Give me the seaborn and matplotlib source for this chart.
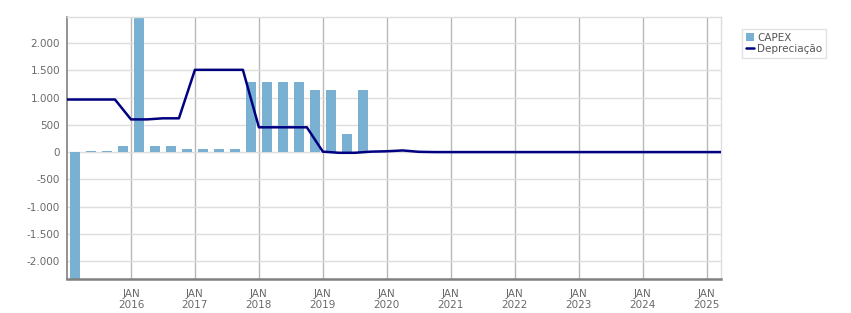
import numpy as np
import pandas as pd
import matplotlib
matplotlib.use("Agg")
import matplotlib.pyplot as plt
import seaborn as sns
from matplotlib.ticker import FuncFormatter, MultipleLocator, FixedLocator
from matplotlib.patches import Patch
from matplotlib.lines import Line2D

# ---- data (quarterly, starting Q1 2015) ----
capex_quarters = ["2015Q1", "2015Q2", "2015Q3", "2015Q4",
                  "2016Q1", "2016Q2", "2016Q3", "2016Q4",
                  "2017Q1", "2017Q2", "2017Q3", "2017Q4",
                  "2018Q1", "2018Q2", "2018Q3", "2018Q4",
                  "2019Q1", "2019Q2", "2019Q3"]
capex_values = [-2330, 18, 18, 110,
                2480, 110, 110, 60,
                60, 60, 60, 1290,
                1290, 1290, 1290, 1140,
                1140, 330, 1140]

dep_values = [965, 965, 965, 965,
              600, 600, 620, 620,
              1510, 1510, 1510, 1510,
              455, 455, 455, 455,
              8, -13, -13, 8,
              15, 30, 5, 0,
              0, 0, 0, 0,
              0, 0, 0, 0,
              0, 0, 0, 0,
              0, 0, 0, 0,
              0, 0]

year_labels = ["JAN\n2016", "JAN\n2017", "JAN\n2018", "JAN\n2019", "JAN\n2020",
               "JAN\n2021", "JAN\n2022", "JAN\n2023", "JAN\n2024", "JAN\n2025"]

# ---- frames (x = quarters since Jan 2015) ----
bar_df = pd.DataFrame({"q": np.arange(len(capex_values)) + 0.5, "v": capex_values})
line_df = pd.DataFrame({"q": np.arange(len(dep_values)), "v": dep_values})

sns.set_style("white")
plt.rcParams["font.family"] = ["DejaVu Sans"]

fig = plt.figure(figsize=(8.51, 3.13), dpi=100)
ax = fig.add_axes([67 / 851, 1 - 279 / 313, (721 - 67) / 851, (279 - 17) / 313])

bar_color = "#7ab1d3"
line_color = "#000080"

ax.set_axisbelow(True)
sns.barplot(data=bar_df, x="q", y="v", native_scale=True, width=0.625,
            color=bar_color, saturation=1, ax=ax, zorder=2, linewidth=0)
sns.lineplot(data=line_df, x="q", y="v", color=line_color, linewidth=1.8,
             ax=ax, zorder=3)

ax.set_xlim(0, 40.9)
ax.set_ylim(-2330, 2480)

# grid
ax.yaxis.set_major_locator(FixedLocator([-2000, -1500, -1000, -500, 0, 500, 1000, 1500, 2000]))
ax.grid(axis="y", color="#dedede", linewidth=1, zorder=0)
ax.xaxis.set_major_locator(FixedLocator(np.arange(4, 41, 4)))
ax.xaxis.set_minor_locator(MultipleLocator(1))
ax.grid(axis="x", which="major", color="#b8b8b8", linewidth=1, zorder=0)

ax.set_xticklabels(year_labels)
ax.yaxis.set_major_formatter(FuncFormatter(lambda v, p: f"{int(v):,}".replace(",", ".")))

ax.tick_params(axis="x", which="major", length=5, width=1, color="#888888",
               labelsize=7.5, labelcolor="#6a6a6a", pad=2)
ax.tick_params(axis="x", which="minor", length=3, width=1, color="#888888")
ax.tick_params(axis="y", length=3, width=1, color="#9a8fb8",
               labelsize=7.5, labelcolor="#6a6a6a", pad=2)

for s in ["left", "bottom"]:
    ax.spines[s].set_color("#808080")
    ax.spines[s].set_linewidth(1.2)
ax.spines["bottom"].set_linewidth(1.8)
for s in ["top", "right"]:
    ax.spines[s].set_color("#dddddd")
    ax.spines[s].set_linewidth(1)

ax.set_xlabel("")
ax.set_ylabel("")

handles = [Patch(facecolor=bar_color, edgecolor="none"),
           Line2D([0], [0], color=line_color, linewidth=1.8)]
leg = fig.legend(handles, ["CAPEX", "Depreciação"], loc="upper left",
                 bbox_to_anchor=(742 / 851, 1 - 29 / 313), frameon=True,
                 fontsize=7.5, handlelength=0.8, handleheight=0.9,
                 handletextpad=0.3, borderpad=0.35, labelspacing=0.15,
                 fancybox=False, borderaxespad=0)
leg.get_frame().set_edgecolor("#dddddd")
leg.get_frame().set_linewidth(1)
for t in leg.get_texts():
    t.set_color("#555555")

fig.savefig("out.png", dpi=100)
